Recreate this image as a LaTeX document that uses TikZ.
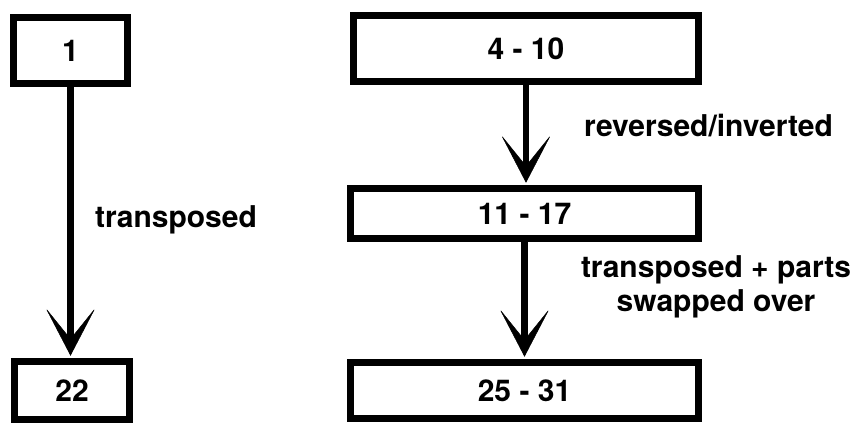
\documentclass[tikz,border=0pt]{standalone}
\usepackage{fontspec}
\setmainfont{TeX Gyre Heros}
\usetikzlibrary{arrows.meta}
\begin{document}
\begin{tikzpicture}[x=1pt,y=-1pt,
  font=\fontsize{30}{34}\selectfont\bfseries,
  box/.style={draw=black,line width=7pt,inner sep=0pt,minimum width=#1},
  flow/.style={line width=6.5pt,-{Stealth[length=48pt,width=50pt,inset=31pt,line width=0.5pt]},shorten >=2pt},
  lbl/.style={inner sep=0pt,align=center}]
\useasboundingbox (0,0) rectangle (860,425);
\node[box=114.5pt,minimum height=66.5pt] (b1) at (70.5,50.5) {1};
\node[box=115.5pt,minimum height=58.5pt] (b22) at (72,390.5) {22};
\node[box=345.5pt,minimum height=66.5pt] (b4) at (526,48.5) {4 - 10};
\node[box=348.5pt,minimum height=50.5pt] (b11) at (524.5,213.5) {11 - 17};
\node[box=348.5pt,minimum height=56.5pt] (b25) at (524.5,390.5) {25 - 31};
\draw[flow] (b1.south) -- (b1.south |- b22.north);
\draw[flow] (b4.south) -- (b4.south |- b11.north);
\draw[flow] (b11.south) -- (b11.south |- b25.north);
\node[lbl,anchor=base] (t1) at (176,227) {transposed};
\node[lbl,anchor=base west] (t2) at (584,137) {reversed/inverted};
\node[lbl] (t3) at (716,287) {transposed + parts\\swapped over};
\end{tikzpicture}
\end{document}
